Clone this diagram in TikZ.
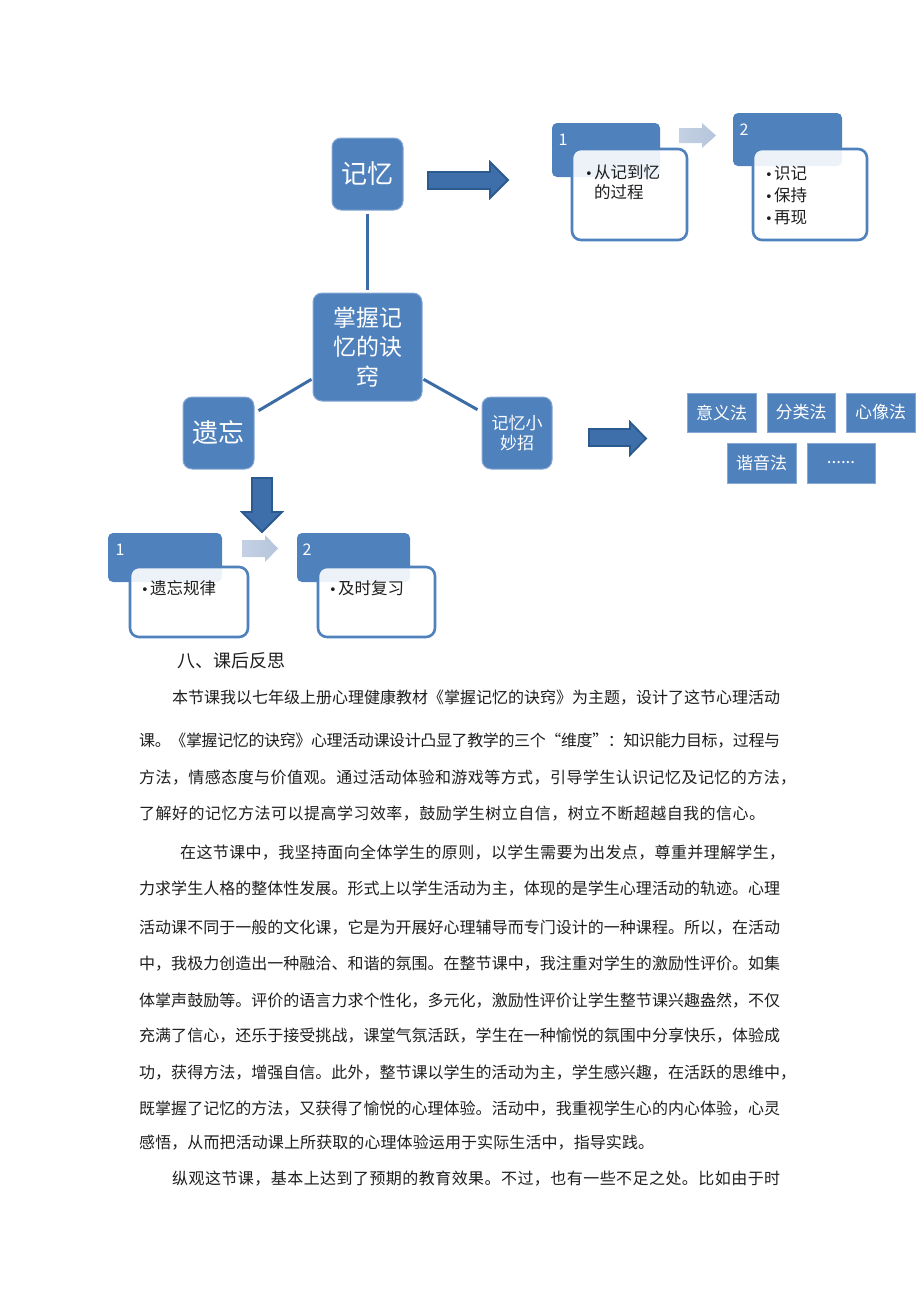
\documentclass[tikz,border=0pt]{standalone}
\usepackage{fontspec}
\setmainfont{Noto Sans CJK SC}
\newfontfamily\bulletfont{DejaVu Sans}
\usetikzlibrary{calc}
\definecolor{boxblue}{HTML}{4F81BD}
\definecolor{boxedge}{HTML}{86A8D3}
\definecolor{linkblue}{HTML}{3C6CA6}
\definecolor{arrowmid}{HTML}{5686C2}
\definecolor{arrowside}{HTML}{3F6FAA}
\definecolor{arrowedge}{HTML}{2B5A8F}
\definecolor{lightarrow}{HTML}{B6C5DC}
\definecolor{textgray}{HTML}{1E1E1E}
\def\jl#1{#1\jlx}
\def\jlx#1{\ifx\relax#1\else\hskip 0pt plus 1fil minus 0.5pt #1\expandafter\jlx\fi}
\newcommand{\jline}[2]{\hbox to #1pt{\jl #2\relax}}
\newcommand{\bul}{\makebox[9pt][l]{\bulletfont\fontsize{13}{13}\selectfont •}}
\tikzset{
  topic/.style={draw=boxedge, line width=1pt, fill=boxblue, rounded corners=9pt, text=white, inner sep=0pt, align=center},
  method/.style={draw=boxedge, line width=0.8pt, fill=boxblue, text=white, minimum width=69pt, minimum height=39pt, inner sep=0pt, font=\fontsize{17}{20}\selectfont},
  header/.style={fill=boxblue, rounded corners=5pt, inner sep=0pt},
  card/.style={draw=boxblue, line width=2.6pt, fill=white, fill opacity=0.9, rounded corners=9pt, inner sep=0pt},
  numlabel/.style={text=white, font=\fontsize{16}{16}\selectfont, inner sep=0pt},
  cardtext/.style={anchor=north west, align=left, inner sep=0pt, text=textgray},
  link/.style={draw=linkblue, line width=3pt},
  bigarrow/.style={top color=arrowside, middle color=arrowmid, bottom color=arrowside, draw=arrowedge, line width=1.8pt, line join=miter},
  bigarrowv/.style={left color=arrowside, middle color=arrowmid, right color=arrowside, draw=arrowedge, line width=1.8pt, line join=miter},
  softarrow/.style={left color=lightarrow!80!white, right color=lightarrow, draw=none},
  bodytext/.style={anchor=base west, inner sep=0pt, text=textgray, font=\fontsize{16}{16}\selectfont},
}
\begin{document}
\begin{tikzpicture}[x=1pt,y=-1pt]
\fill[white] (0,0) rectangle (920,1302);
\useasboundingbox (0,0) rectangle (920,1302);

% ---- central mind map ----
\node[topic, minimum width=71pt, minimum height=72pt, font=\fontsize{26}{26}\selectfont] (jy) at (367.5,174) {记忆};
\node[topic, minimum width=109pt, minimum height=108pt, font=\fontsize{23}{29.5}\selectfont] (zw) at (367.5,347) {掌握记\\忆的诀\\窍};
\node[topic, minimum width=71pt, minimum height=72pt, font=\fontsize{26}{26}\selectfont] (yw) at (218.5,433) {遗忘};
\node[topic, minimum width=70pt, minimum height=72pt, font=\fontsize{17}{20.5}\selectfont] (mz) at (517,433) {记忆小\\妙招};

\draw[link] ($(jy.south)+(0,3)$) -- ($(zw.north)+(0,-3)$);
\draw[link] ($(zw.south west)!0.204!(zw.north west)+(-1,0)$) -- ($(yw.north east)!0.194!(yw.south east)+(4,0)$);
\draw[link] ($(zw.south east)!0.204!(zw.north east)+(1,0)$) -- ($(mz.north west)!0.18!(mz.south west)+(-4,0)$);

% ---- big arrows ----
\path[bigarrow] (428,172) -- (490,172) -- (490,162) -- (508,180) -- (490,198) -- (490,189) -- (428,189) -- cycle;
\path[bigarrow] (589,429) -- (630,429) -- (630,422) -- (646,438.5) -- (630,455) -- (630,446) -- (589,446) -- cycle;
\path[bigarrowv] (252,478) -- (272,478) -- (272,512) -- (282,512) -- (262,532) -- (242,512) -- (252,512) -- cycle;

% ---- top right process ----
\node[header, minimum width=108pt, minimum height=54pt] (h1) at (606,150) {};
\node[card, minimum width=115pt, minimum height=91pt] (c1) at (629.5,194.5) {};
\node[numlabel] (n1) at (563,140) {1};
\node[cardtext, font=\fontsize{16.5}{20}\selectfont] (t1) at (585,164.5) {\bul 从记到忆\\\hspace*{9pt}的过程};
\path[softarrow] (679,128) -- (702,128) -- (702,123) -- (716,135.5) -- (702,148) -- (702,143) -- (679,143) -- cycle;
\node[header, minimum width=109pt, minimum height=53pt] (h2) at (787.5,139.5) {};
\node[card, minimum width=114pt, minimum height=91pt] (c2) at (810,194.5) {};
\node[numlabel] (n2) at (744,130) {2};
\node[cardtext, font=\fontsize{16.5}{22}\selectfont] (t2) at (765,165.5) {\bul 识记\\\bul 保持\\\bul 再现};

% ---- methods ----
\node[method] (m1) at (721.5,412.5) {意义法};
\node[method, minimum width=68pt] (m2) at (801,412.5) {分类法};
\node[method] (m3) at (880.5,412.5) {心像法};
\node[method, minimum height=40pt] (m4) at (761.5,463) {谐音法};
\node[method, minimum height=40pt, minimum width=68pt] (m5) at (841,463) {......};

% ---- bottom process ----
\node[header, minimum width=114pt, minimum height=49pt] (hb1) at (165,557.5) {};
\node[card, minimum width=118pt, minimum height=70pt] (cb1) at (189,602) {};
\node[numlabel] (nb1) at (120,550) {1};
\node[cardtext, font=\fontsize{16.5}{20}\selectfont] (tb1) at (141,580.5) {\bul 遗忘规律};
\path[softarrow] (242,540) -- (265,540) -- (265,535) -- (278,548.5) -- (265,562) -- (265,557) -- (242,557) -- cycle;
\node[header, minimum width=113pt, minimum height=49pt] (hb2) at (353.5,557.5) {};
\node[card, minimum width=117pt, minimum height=70pt] (cb2) at (376.5,602) {};
\node[numlabel] (nb2) at (307,550) {2};
\node[cardtext, font=\fontsize{16.5}{20}\selectfont] (tb2) at (329,580.5) {\bul 及时复习};

% ---- text ----
\node[bodytext, font=\fontsize{18}{18}\selectfont] (hd) at (177,667) {八、课后反思};
\node[bodytext] (p1a) at (172,703) {\jline{608}{本节课我以七年级上册心理健康教材《掌握记忆的诀窍》为主题，设计了这节心理活动}};
\node[bodytext] (p1b) at (139,746) {\jline{641}{课。《掌握记忆的诀窍》心理活动课设计凸显了教学的三个“维度”：知识能力目标，过程与}};
\node[bodytext] (p1c) at (139,783) {\jline{657}{方法，情感态度与价值观。通过活动体验和游戏等方式，引导学生认识记忆及记忆的方法，}};
\node[bodytext] (p1d) at (139,819) {\jline{626}{了解好的记忆方法可以提高学习效率，鼓励学生树立自信，树立不断超越自我的信心。}};
\node[bodytext] (p2a) at (180,858) {\jline{605}{在这节课中，我坚持面向全体学生的原则，以学生需要为出发点，尊重并理解学生，}};
\node[bodytext] (p2b) at (139,894) {\jline{641}{力求学生人格的整体性发展。形式上以学生活动为主，体现的是学生心理活动的轨迹。心理}};
\node[bodytext] (p2c) at (139,933) {\jline{641}{活动课不同于一般的文化课，它是为开展好心理辅导而专门设计的一种课程。所以，在活动}};
\node[bodytext] (p2d) at (139,969) {\jline{641}{中，我极力创造出一种融洽、和谐的氛围。在整节课中，我注重对学生的激励性评价。如集}};
\node[bodytext] (p2e) at (139,1006) {\jline{641}{体掌声鼓励等。评价的语言力求个性化，多元化，激励性评价让学生整节课兴趣盎然，不仅}};
\node[bodytext] (p2f) at (139,1041) {\jline{641}{充满了信心，还乐于接受挑战，课堂气氛活跃，学生在一种愉悦的氛围中分享快乐，体验成}};
\node[bodytext] (p2g) at (139,1078) {\jline{657}{功，获得方法，增强自信。此外，整节课以学生的活动为主，学生感兴趣，在活跃的思维中，}};
\node[bodytext] (p2h) at (139,1114) {\jline{641}{既掌握了记忆的方法，又获得了愉悦的心理体验。活动中，我重视学生心的内心体验，心灵}};
\node[bodytext] (p2i) at (139,1148) {\jline{515}{感悟，从而把活动课上所获取的心理体验运用于实际生活中，指导实践。}};
\node[bodytext] (p3) at (172,1184) {\jline{608}{纵观这节课，基本上达到了预期的教育效果。不过，也有一些不足之处。比如由于时}};
\end{tikzpicture}
\end{document}
